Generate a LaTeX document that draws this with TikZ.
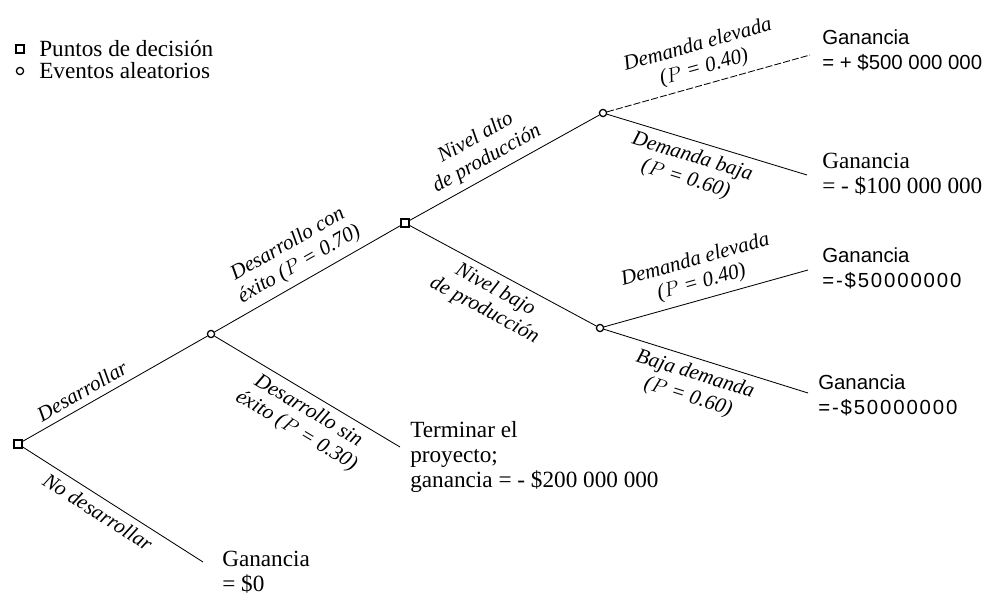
\documentclass[tikz,border=0pt]{standalone}
\usepackage{fontspec}
\setmainfont{Liberation Serif}
\newfontfamily\arialfont{Liberation Sans}
\newfontfamily\arialwide[LetterSpace=9]{Liberation Sans}
\usetikzlibrary{positioning}

\begin{document}
\begin{tikzpicture}[x=0.025cm,y=-0.025cm]
\tikzstyle{every node}=[font=\fontsize{16.5pt}{18pt}\selectfont]
\tikzstyle{decision}=[draw, rectangle, line width=0.9pt, minimum size=0.2cm, inner sep=0pt]
\tikzstyle{chance}=[draw, circle, line width=0.9pt, minimum size=0.18cm, inner sep=0pt]
\tikzstyle{branch}=[font=\itshape\fontsize{15pt}{16.5pt}\selectfont, align=center, sloped, inner sep=4.5pt]
\tikzstyle{payoff}=[align=left, anchor=west, inner sep=0pt]
\tikzstyle{sanspayoff}=[payoff, font=\arialfont\fontsize{14.5pt}{18pt}\selectfont]
\useasboundingbox (0,0) rectangle (997,596);
\node [decision] (legdec) at (20,49) {};
\node [payoff] (legdectext) at (39,49) {Puntos de decisión};
\node [chance] (legchance) at (20,71) {};
\node [payoff] (legchancetext) at (39,71) {Eventos aleatorios};
\node [decision] (start) at (18,444) {};
\node [chance] (develop) at (211,334) {};
\node [decision] (level) at (405,223) {};
\node [chance] (high) at (603,113) {};
\node [chance] (low) at (600,328) {};
\coordinate (endhh) at (810,55);
\coordinate (endhl) at (807,175);
\coordinate (endlh) at (808,270);
\coordinate (endll) at (808,393);
\coordinate (endfail) at (400,447);
\coordinate (endnone) at (203,562);
\draw [line width=0.6pt] (start) -- (develop) node [branch, above, pos=0.36] {Desarrollar};
\draw [line width=0.6pt] (start) -- (endnone) node [branch, below, pos=0.46] {No desarrollar};
\draw [line width=0.6pt] (develop) -- (level) node [branch, above, pos=0.5] {Desarrollo con\\éxito ($P$ = 0.70)};
\draw [line width=0.6pt] (develop) -- (endfail) node [branch, below, pos=0.55] {Desarrollo sin\\éxito ($P$ = 0.30)};
\draw [line width=0.6pt] (level) -- (high) node [branch, above, pos=0.45] {Nivel alto\\de producción};
\draw [line width=0.6pt] (level) -- (low) node [branch, below, pos=0.5] {Nivel bajo\\de producción};
\draw [line width=0.6pt, dashed, dash pattern=on 5pt off 1.5pt] (high) -- (endhh) node [branch, above, pos=0.5] {Demanda elevada\\($P$ = 0.40)};
\draw [line width=0.6pt] (high) -- (endhl) node [branch, below, pos=0.45] {Demanda baja\\($P$ = 0.60)};
\draw [line width=0.6pt] (low) -- (endlh) node [branch, above, pos=0.5] {Demanda elevada\\($P$ = 0.40)};
\draw [line width=0.6pt] (low) -- (endll) node [branch, below, pos=0.47] {Baja demanda\\($P$ = 0.60)};
\node [sanspayoff] (gainhh) at (822,50) {Ganancia\\= + \$500 000 000};
\node [payoff] (gainhl) at (822,174) {Ganancia\\= - \$100 000 000};
\node [sanspayoff] (gainlh) at (822,268) {Ganancia\\{\arialwide =-\$50000000}};
\node [sanspayoff] (gainll) at (818,395) {Ganancia\\{\arialwide =-\$50000000}};
\node [payoff] (gainfail) at (410,457) {Terminar el\\proyecto;\\ganancia = - \$200 000 000};
\node [payoff] (gainnone) at (222,572) {Ganancia\\= \$0};
\end{tikzpicture}
\end{document}
